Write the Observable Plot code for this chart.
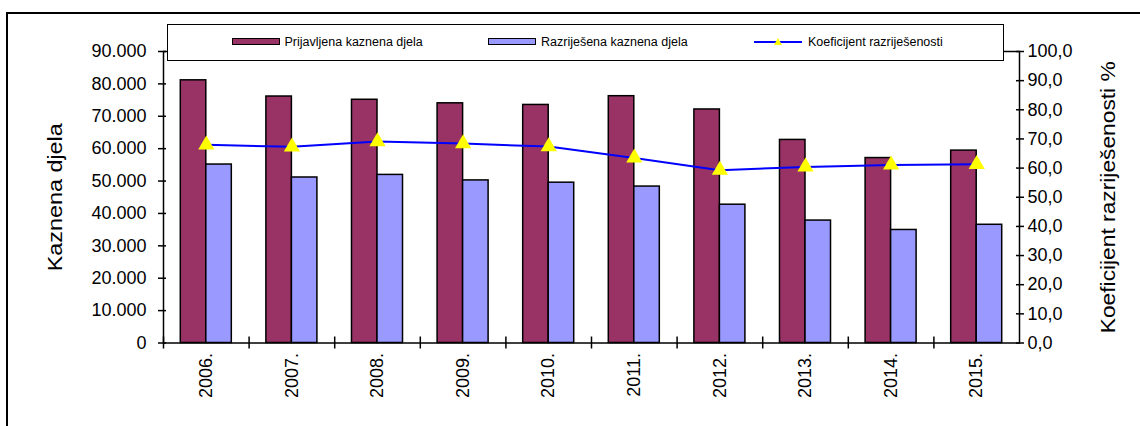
<!DOCTYPE html>
<html>
<head>
<meta charset="utf-8">
<script src="https://cdn.jsdelivr.net/npm/d3@7"></script>
<script src="https://cdn.jsdelivr.net/npm/@observablehq/plot@0.6"></script>
<style>
  body { margin: 0; background: #fff; font-family: Arial, "Liberation Sans", sans-serif; }
  #wrap { position: relative; width: 1140px; height: 426px; overflow: hidden; background: #fff; }
  #chart { position: absolute; left: 0; top: 0; }
  #border { position: absolute; left: 6px; top: 12px; width: 1300px; height: 600px; border-left: 2px solid #000; border-top: 2px solid #000; pointer-events: none; }
  #legend { position: absolute; left: 167px; top: 24px; width: 835px; height: 35px; border: 1.5px solid #000; background: #fff; }
  .item { position: absolute; top: -1px; height: 35px; display: flex; align-items: center; font-size: 12.5px; white-space: nowrap; color: #000; }
  .sw { display: inline-block; width: 46px; height: 5px; border: 1px solid #000; margin-right: 5px; }
  .ln { display: inline-block; width: 48px; height: 10px; margin-right: 6px; }
</style>
</head>
<body>
<div id="wrap">
  <div id="chart"></div>
  <div id="border"></div>
  <div id="legend"></div>
</div>
<script>
// ---- data ----
const years = ["2006.", "2007.", "2008.", "2009.", "2010.", "2011.", "2012.", "2013.", "2014.", "2015."];
const prijavljena = [81100, 76100, 75100, 74000, 73500, 76200, 72100, 62700, 57100, 59400];
const razrijesena = [55100, 51100, 51900, 50200, 49500, 48300, 42700, 37800, 34900, 36500];
const koeficijent = [68.0, 67.3, 69.1, 68.4, 67.4, 63.5, 59.3, 60.4, 61.1, 61.3];
const leftTicks = [0, 10000, 20000, 30000, 40000, 50000, 60000, 70000, 80000, 90000];
const rightTicks = [0, 10, 20, 30, 40, 50, 60, 70, 80, 90, 100];
const seriesNames = ["Prijavljena kaznena djela", "Razriješena kaznena djela", "Koeficijent razriješenosti"];
const leftTitle = "Kaznena djela";
const rightTitle = "Koeficijent razriješenosti %";
const colors = ["#993366", "#9999ff", "#0000ff", "#ffff00"];

// ---- layout ----
const W = 1140, H = 426, mL = 163, mR = 121, mT = 51, mB = 83.5;
const factor = leftTicks[leftTicks.length - 1] / rightTicks[rightTicks.length - 1];
const bw = (W - mL - mR) / years.length;
const barW = bw * 0.298;
const gap = (bw - 2 * barW) / 2;

const rows = years.map((y, i) => ({year: y, p: prijavljena[i], r: razrijesena[i], k: koeficijent[i]}));
const fmtL = d => d === 0 ? "0" : d3.format(",")(d).replace(/,/g, ".");
const fmtR = d => (d / factor).toFixed(1).replace(".", ",");
const rightScaled = rightTicks.map(v => v * factor);

const plot = Plot.plot({
  width: W, height: H,
  marginLeft: mL, marginRight: mR, marginTop: mT, marginBottom: mB,
  style: {fontFamily: "Arial, 'Liberation Sans', sans-serif", fontSize: "18px", background: "none", color: "#000", overflow: "visible"},
  x: {type: "band", domain: years, padding: 0, round: false, axis: null},
  y: {domain: [0, leftTicks[leftTicks.length - 1]], axis: null},
  marks: [
    Plot.barY(rows, {x: "year", y: "p", fill: colors[0], stroke: "#000", strokeWidth: 1.5, insetLeft: gap, insetRight: bw - gap - barW}),
    Plot.barY(rows, {x: "year", y: "r", fill: colors[1], stroke: "#000", strokeWidth: 1.5, insetLeft: gap + barW, insetRight: gap}),
    Plot.frame({stroke: "#000", strokeWidth: 1.5}),
    Plot.ruleX(years, {x: d => d, dx: -bw / 2, y1: 0, y2: 0, insetTop: -6, insetBottom: -6, stroke: "#000", strokeWidth: 1.5}),
    Plot.axisY(leftTicks, {anchor: "left", tickSize: 8, dx: 3, fill: "none", label: null, strokeWidth: 1.5}),
    Plot.axisY(leftTicks, {anchor: "left", tickSize: 0, tickPadding: 17, tickFormat: fmtL, label: null}),
    Plot.axisY(rightScaled, {anchor: "right", tickSize: 8, dx: -4, fill: "none", label: null, strokeWidth: 1.5}),
    Plot.axisY(rightScaled, {anchor: "right", tickSize: 0, tickPadding: 8, tickFormat: fmtR, label: null}),
    Plot.axisX(years, {anchor: "bottom", tickSize: 0, tickPadding: 10, tickRotate: -90, label: null}),
    Plot.line(rows, {x: "year", y: d => d.k * factor, stroke: colors[2], strokeWidth: 2}),
    Plot.dot(rows, {x: "year", y: d => d.k * factor, symbol: "triangle", r: 6, fill: colors[3], stroke: "none"}),
    Plot.text([leftTitle], {frameAnchor: "left", dx: -108, rotate: -90, fontSize: 21, lineAnchor: "middle"}),
    Plot.text([rightTitle], {frameAnchor: "right", dx: 89, rotate: -90, fontSize: 21, lineAnchor: "middle"})
  ]
});
document.getElementById("chart").appendChild(plot);

// stretch titles to the reference length (centred manually, since textLength ignores middle anchoring)
const titleLen = {[leftTitle]: 148, [rightTitle]: 272};
d3.select(plot).selectAll("text").each(function () {
  const t = this.textContent;
  if (titleLen[t]) {
    const len = titleLen[t];
    this.setAttribute("text-anchor", "start");
    this.setAttribute("x", -len / 2);
    this.setAttribute("textLength", len);
    this.setAttribute("lengthAdjust", "spacingAndGlyphs");
  }
});

// ---- legend ----
const legend = document.getElementById("legend");
const itemLeft = [63.5, 320, 586];
seriesNames.forEach((name, i) => {
  const it = document.createElement("div");
  it.className = "item";
  it.style.left = itemLeft[i] + "px";
  if (i < 2) {
    const sw = document.createElement("span");
    sw.className = "sw";
    sw.style.background = colors[i];
    it.appendChild(sw);
  } else {
    const ns = "http://www.w3.org/2000/svg";
    const s = document.createElementNS(ns, "svg");
    s.setAttribute("class", "ln");
    s.setAttribute("width", 48); s.setAttribute("height", 10);
    const l = document.createElementNS(ns, "line");
    l.setAttribute("x1", 0); l.setAttribute("x2", 48); l.setAttribute("y1", 5); l.setAttribute("y2", 5);
    l.setAttribute("stroke", colors[2]); l.setAttribute("stroke-width", 2);
    const p = document.createElementNS(ns, "path");
    p.setAttribute("d", "M24,1 L28,8 L20,8 Z");
    p.setAttribute("fill", colors[3]);
    s.appendChild(l); s.appendChild(p);
    it.appendChild(s);
  }
  const tx = document.createElement("span");
  tx.textContent = name;
  it.appendChild(tx);
  legend.appendChild(it);
});
</script>
</body>
</html>
